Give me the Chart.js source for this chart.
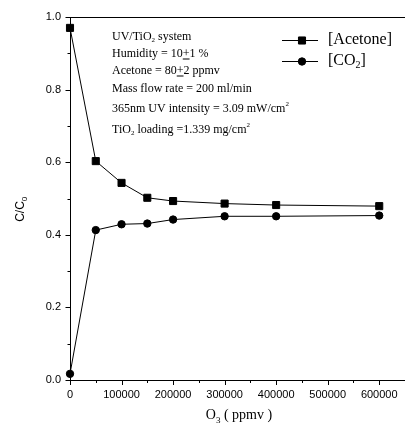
<!DOCTYPE html>
<html>
<head>
<meta charset="utf-8">
<script src="https://cdn.jsdelivr.net/npm/chart.js@4.4.1/dist/chart.umd.min.js"></script>
<style>
  html, body { margin: 0; padding: 0; background: #fff; overflow: hidden; }
  #wrap { width: 405px; height: 423px; position: relative; overflow: hidden; }
  #c { display: block; }
</style>
</head>
<body>
<div id="wrap"><canvas id="c" width="411" height="423"></canvas></div>
<script>
// ---- data ----
const ozone = [0, 50000, 100000, 150000, 200000, 300000, 400000, 600000];
const acetone = [0.97, 0.603, 0.543, 0.502, 0.493, 0.486, 0.482, 0.479];
const co2 = [0.017, 0.413, 0.429, 0.431, 0.442, 0.451, 0.451, 0.453];
const xTicks = [0, 100000, 200000, 300000, 400000, 500000, 600000];
const yTicks = [0.0, 0.2, 0.4, 0.6, 0.8, 1.0];
const seriesNames = ['[Acetone]', '[CO', '2', ']'];

const SERIF = '"Liberation Serif", "Times New Roman", serif';
const SANS = '"Liberation Sans", Arial, sans-serif';

function drawRich(ctx, x, y, segs, size) {
  let cx = x;
  for (const s of segs) {
    const [t, kind] = s;
    let fs = size, dy = 0;
    if (kind === 'sub') { fs = Math.round(size * 0.62); dy = size * 0.3; }
    if (kind === 'sup') { fs = Math.round(size * 0.62); dy = -size * 0.38; }
    ctx.font = fs + 'px ' + SERIF;
    ctx.fillText(t, cx, y + dy);
    const w = ctx.measureText(t).width;
    if (kind === 'ul') {
      ctx.fillRect(cx, y + 4.5, w, 1);
    }
    cx += w;
  }
  return cx;
}

const decorPlugin = {
  id: 'decor',
  afterDraw(chart) {
    const ctx = chart.ctx;
    const xs = chart.scales.x, ys = chart.scales.y;
    const a = chart.chartArea;
    ctx.save();
    ctx.strokeStyle = '#000';
    ctx.fillStyle = '#000';
    ctx.lineWidth = 1;
    // top frame line
    ctx.beginPath();
    ctx.moveTo(a.left, Math.round(a.top) + 0.5);
    ctx.lineTo(a.right, Math.round(a.top) + 0.5);
    ctx.stroke();
    // y ticks (major + minor)
    for (let v = 0; v <= 1.0001; v += 0.1) {
      const py = Math.round(ys.getPixelForValue(v)) + 0.5;
      const major = Math.abs(Math.round(v * 10) % 2) === 0;
      const len = major ? 5 : 3;
      ctx.beginPath();
      ctx.moveTo(a.left + 0.5, py);
      ctx.lineTo(a.left + 0.5 - len, py);
      ctx.stroke();
    }
    // x ticks
    for (let v = 0; v <= 650000; v += 50000) {
      const px = Math.round(xs.getPixelForValue(v)) + 0.5;
      const major = (v % 100000) === 0;
      const len = major ? 5 : 3;
      ctx.beginPath();
      ctx.moveTo(px, a.bottom);
      ctx.lineTo(px, a.bottom + len);
      ctx.stroke();
    }
    // axis titles
    ctx.textBaseline = 'alphabetic';
    ctx.textAlign = 'left';
    ctx.font = '14px ' + SERIF;
    const w1 = ctx.measureText('O').width;
    ctx.font = '9px ' + SERIF;
    const w2 = ctx.measureText('3').width;
    ctx.font = '14px ' + SERIF;
    const w3 = ctx.measureText(' ( ppmv )').width;
    const tx = 239 - (w1 + w2 + w3) / 2;
    drawRich(ctx, tx, 419, [['O'], ['3', 'sub'], [' ( ppmv )']], 14);
    ctx.save();
    ctx.translate(24, 209);
    ctx.rotate(-Math.PI / 2);
    ctx.font = '12px ' + SANS;
    const cw = ctx.measureText('C/C').width;
    ctx.fillText('C/C', -(cw + 5) / 2, 0);
    ctx.font = '8px ' + SANS;
    ctx.fillText('0', -(cw + 5) / 2 + cw, 3);
    ctx.restore();

    // annotation block
    ctx.textBaseline = 'middle';
    const ax = 112;
    drawRich(ctx, ax, 37, [['UV/TiO'], ['2', 'sub'], [' system']], 12);
    drawRich(ctx, ax, 54, [['Humidity = 10'], ['+', 'ul'], ['1 %']], 12);
    drawRich(ctx, ax, 71, [['Acetone = 80'], ['+', 'ul'], ['2 ppmv']], 12);
    drawRich(ctx, ax, 88.5, [['Mass flow rate = 200 ml/min']], 12);
    drawRich(ctx, ax, 108.5, [['365nm UV intensity = 3.09 mW/cm'], ['2', 'sup']], 12);
    drawRich(ctx, ax, 129.5, [['TiO'], ['2', 'sub'], [' loading =1.339 mg/cm'], ['2', 'sup']], 12);

    // legend
    const rows = [39.5, 61];
    chart.data.datasets.forEach((ds, i) => {
      const y = rows[i];
      ctx.strokeStyle = ds.borderColor;
      ctx.fillStyle = ds.pointBackgroundColor;
      ctx.beginPath();
      ctx.moveTo(282, Math.round(y) + 0.5);
      ctx.lineTo(318, Math.round(y) + 0.5);
      ctx.stroke();
      Chart.helpers.drawPoint(ctx, {
        pointStyle: ds.pointStyle, radius: ds.pointRadius, borderWidth: 1, rotation: 0
      }, 302, Math.round(y) + 0.5);
    });
    ctx.fillStyle = '#000';
    ctx.textBaseline = 'middle';
    drawRich(ctx, 328, rows[0], [[seriesNames[0]]], 16);
    drawRich(ctx, 328, rows[1], [[seriesNames[1]], [seriesNames[2], 'sub'], [seriesNames[3]]], 16);
    ctx.restore();
  }
};

new Chart(document.getElementById('c'), {
  type: 'line',
  data: {
    datasets: [
      {
        label: '[Acetone]',
        data: ozone.map((x, i) => ({ x, y: acetone[i] })),
        borderColor: '#000', backgroundColor: '#000',
        borderWidth: 1, pointStyle: 'rect', pointRadius: 5,
        pointBorderWidth: 1, pointBorderColor: '#000', pointBackgroundColor: '#000',
        tension: 0, clip: false
      },
      {
        label: '[CO2]',
        data: ozone.map((x, i) => ({ x, y: co2[i] })),
        borderColor: '#000', backgroundColor: '#000',
        borderWidth: 1, pointStyle: 'circle', pointRadius: 3.7,
        pointBorderWidth: 1, pointBorderColor: '#000', pointBackgroundColor: '#000',
        tension: 0, clip: false
      }
    ]
  },
  options: {
    responsive: false,
    animation: false,
    devicePixelRatio: 1,
    layout: { padding: { top: 17, right: 0, left: 0, bottom: 0 } },
    plugins: { legend: { display: false }, tooltip: { enabled: false }, title: { display: false } },
    scales: {
      x: {
        type: 'linear', min: 0, max: 650000,
        afterFit(s) { s.height = 43; },
        afterBuildTicks(s) { s.ticks = xTicks.map(v => ({ value: v })); },
        grid: { display: false, drawTicks: false },
        border: { display: true, color: '#000', width: 1 },
        ticks: { color: '#000', font: { family: SANS, size: 11 }, padding: 8, maxRotation: 0, autoSkip: false,
                 callback: v => String(v) }
      },
      y: {
        type: 'linear', min: 0, max: 1.0,
        afterFit(s) { s.width = 70; },
        afterBuildTicks(s) { s.ticks = yTicks.map(v => ({ value: v })); },
        grid: { display: false, drawTicks: false },
        border: { display: true, color: '#000', width: 1 },
        ticks: { color: '#000', font: { family: SANS, size: 11 }, padding: 9,
                 callback: v => Number(v).toFixed(1) }
      }
    }
  },
  plugins: [decorPlugin]
});
</script>
</body>
</html>
